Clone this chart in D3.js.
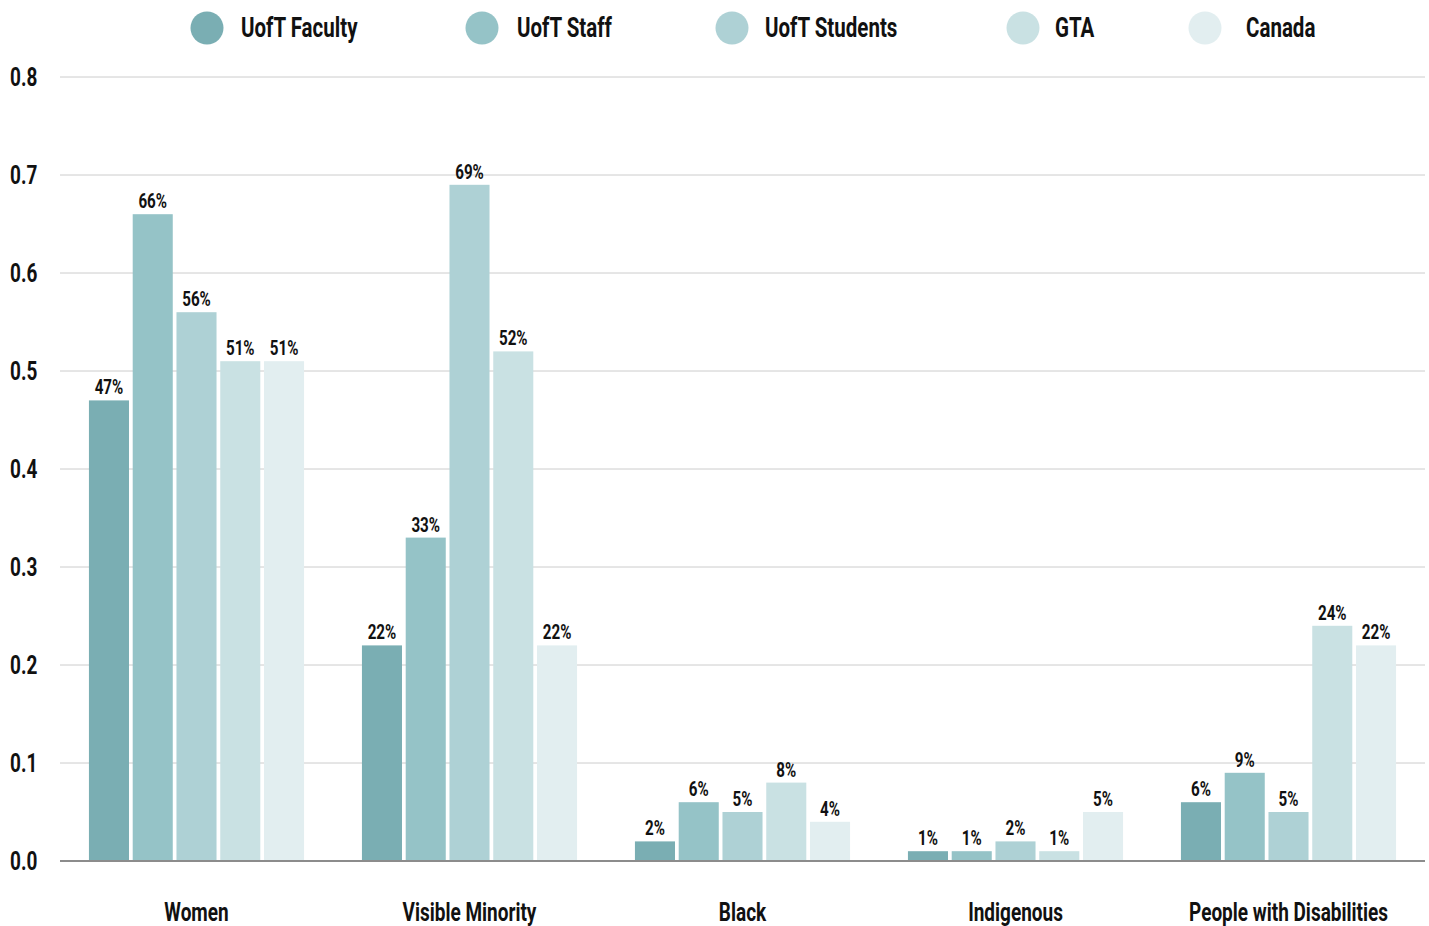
<!DOCTYPE html>
<html>
<head>
<meta charset="utf-8">
<script src="https://cdn.jsdelivr.net/npm/d3@7"></script>
<style>
  html, body { margin: 0; padding: 0; background: #fff; }
  svg { display: block; }
  text { font-family: Roboto, "Liberation Sans", sans-serif; font-weight: 700; fill: #111; }
</style>
</head>
<body>
<svg id="chart" width="1429" height="926"></svg>
<script>
// Share of each group across the five populations
const categories = ["Women", "Visible Minority", "Black", "Indigenous", "People with Disabilities"];
const seriesNames = ["UofT Faculty", "UofT Staff", "UofT Students", "GTA", "Canada"];
const faculty  = [0.47, 0.22, 0.02, 0.01, 0.06];
const staff    = [0.66, 0.33, 0.06, 0.01, 0.09];
const students = [0.56, 0.69, 0.05, 0.02, 0.05];
const gta      = [0.51, 0.52, 0.08, 0.01, 0.24];
const canada   = [0.51, 0.22, 0.04, 0.05, 0.22];
const yTicks = [0, 0.1, 0.2, 0.3, 0.4, 0.5, 0.6, 0.7, 0.8];

const seriesValues = [faculty, staff, students, gta, canada];
const colors = ["#7aaeb3", "#95c3c7", "#aed1d5", "#c9e1e3", "#e2eef0"];

const svg = d3.select("#chart");
const plotLeft = 60, plotRight = 1425, plotTop = 77, plotBottom = 861;
const SX = 0.76; // horizontal squeeze for a condensed look

const x0 = d3.scaleBand().domain(categories).range([plotLeft, plotRight])
  .paddingInner(0.212).paddingOuter(0.106);
const x1 = d3.scaleBand().domain(seriesNames).range([0, x0.bandwidth()])
  .paddingInner(0.085).paddingOuter(0);
const y = d3.scaleLinear().domain([0, 0.8]).range([plotBottom, plotTop]);
const color = d3.scaleOrdinal().domain(seriesNames).range(colors);

function condensedText(sel, x, yPos, anchor) {
  return sel.append("text")
    .attr("text-anchor", anchor)
    .attr("transform", `translate(${x},${yPos}) scale(${SX},1)`);
}

// gridlines
const grid = svg.append("g");
grid.selectAll("line").data(yTicks.filter(d => d > 0)).join("line")
  .attr("x1", plotLeft).attr("x2", plotRight)
  .attr("y1", d => y(d)).attr("y2", d => y(d))
  .attr("stroke", "#cccccc").attr("stroke-width", 1);

// y tick labels
const yAxis = svg.append("g");
yTicks.forEach(t => {
  condensedText(yAxis, 10, y(t) + 9, "start")
    .attr("font-size", 25)
    .text(d3.format(".1f")(t));
});

// bars
const rows = categories.map((c, i) => ({
  cat: c,
  vals: seriesNames.map((s, j) => ({ series: s, value: seriesValues[j][i] }))
}));

const groups = svg.append("g").selectAll("g").data(rows).join("g")
  .attr("transform", d => `translate(${x0(d.cat)},0)`);

groups.selectAll("rect").data(d => d.vals).join("rect")
  .attr("x", d => x1(d.series))
  .attr("width", x1.bandwidth())
  .attr("y", d => y(d.value))
  .attr("height", d => y(0) - y(d.value))
  .attr("fill", d => color(d.series));

groups.each(function(d) {
  const g = d3.select(this);
  d.vals.forEach(v => {
    condensedText(g, x1(v.series) + x1.bandwidth() / 2, y(v.value) - 6, "middle")
      .attr("font-size", 20)
      .text(d3.format(".0%")(v.value));
  });
});

// baseline
svg.append("line")
  .attr("x1", plotLeft).attr("x2", plotRight)
  .attr("y1", y(0)).attr("y2", y(0))
  .attr("stroke", "#8c8c8c").attr("stroke-width", 2);

// category labels
const xAxis = svg.append("g");
categories.forEach(c => {
  condensedText(xAxis, x0(c) + x0.bandwidth() / 2, 921, "middle")
    .attr("font-size", 25)
    .text(c);
});

// legend
const legendDotX = [207, 482, 732, 1023, 1205];
const legendTextX = [241, 517, 765, 1055, 1246];
const legend = svg.append("g");
seriesNames.forEach((s, i) => {
  legend.append("circle")
    .attr("cx", legendDotX[i]).attr("cy", 28).attr("r", 16.5)
    .attr("fill", color(s));
  condensedText(legend, legendTextX[i], 37, "start")
    .attr("font-size", 27)
    .text(s);
});
</script>
</body>
</html>
